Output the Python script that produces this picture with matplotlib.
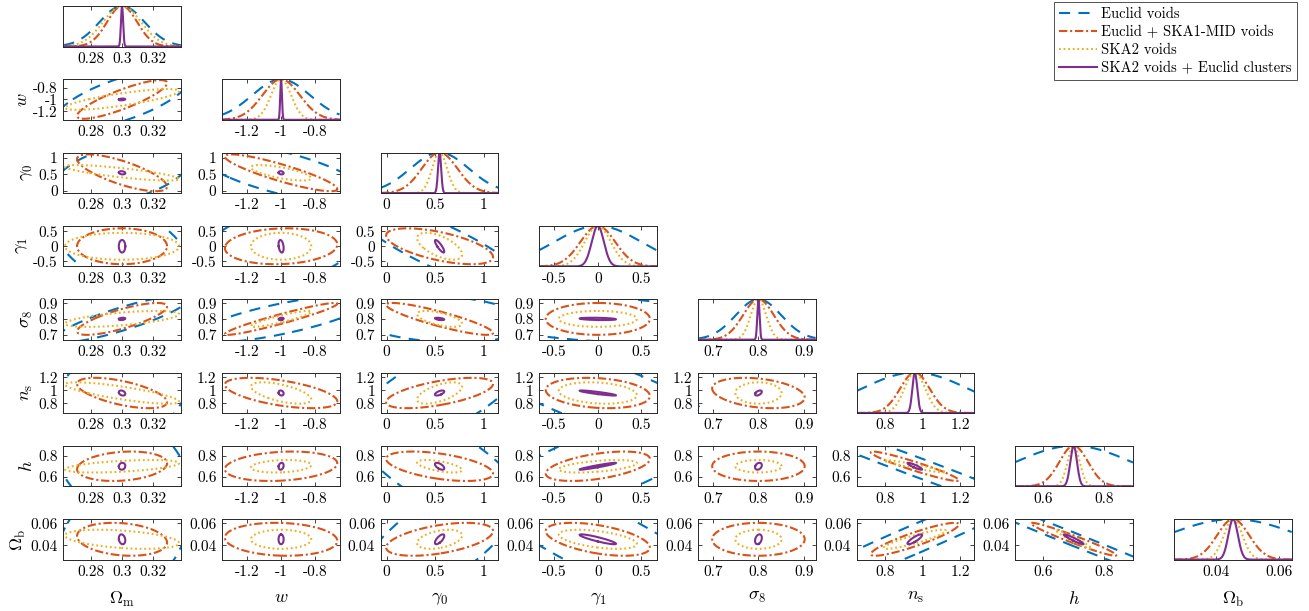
import numpy as np
import matplotlib
matplotlib.use("Agg")
from matplotlib import pyplot as plt
from matplotlib.lines import Line2D

plt.rcParams['font.family'] = ['cmr10']
plt.rcParams['mathtext.fontset'] = 'cm'
plt.rcParams['axes.unicode_minus'] = False
plt.rcParams['axes.formatter.use_mathtext'] = True
plt.rcParams['lines.scale_dashes'] = False

# parameters
names = [r'$\Omega_\mathrm{m}$', r'$w$', r'$\gamma_0$', r'$\gamma_1$',
         r'$\sigma_8$', r'$n_\mathrm{s}$', r'$h$', r'$\Omega_\mathrm{b}$']
fid = [0.3, -1.0, 0.545, 0.0, 0.8, 0.96, 0.7, 0.0455]
lims = [(0.262, 0.338), (-1.347, -0.657), (-0.06, 1.147), (-0.673, 0.681),
        (0.667, 0.926), (0.652, 1.276), (0.508, 0.896), (0.027, 0.0639)]
ticks = [[0.28, 0.3, 0.32], [-1.2, -1, -0.8], [0, 0.5, 1], [-0.5, 0, 0.5],
         [0.7, 0.8, 0.9], [0.8, 1, 1.2], [0.6, 0.8], [0.04, 0.06]]
tick_labels = [['0.28', '0.3', '0.32'], ['-1.2', '-1', '-0.8'], ['0', '0.5', '1'],
               ['-0.5', '0', '0.5'], ['0.7', '0.8', '0.9'], ['0.8', '1', '1.2'],
               ['0.6', '0.8'], ['0.04', '0.06']]

# 1-sigma errors per experiment
sig_euclid = [0.0145, 0.17, 0.3, 0.5, 0.05, 0.28, 0.19, 0.021]
sig_ska1 = [0.0097, 0.11, 0.183, 0.2, 0.034, 0.078, 0.047, 0.005]
sig_ska2 = [0.0123, 0.059, 0.077, 0.15, 0.017, 0.055, 0.02, 0.0029]
sig_clus = [0.0007, 0.005, 0.016, 0.07, 0.0025, 0.013, 0.011, 0.0015]

# correlations, row j lists rho(i, j) for i < j
rho_euclid = [[0.68],
              [0.42, -0.7],
              [-0.44, 0.45, -0.84],
              [0.86, 0.75, -0.2, -0.3],
              [0.3, 0.1, 0.68, -0.79, -0.25],
              [-0.36, 0.1, -0.7, 0.8, 0.0, -0.985],
              [0.38, 0.0, 0.74, -0.85, 0.0, 0.975, -0.995]]
rho_ska1 = [[0.85],
            [-0.75, -0.88],
            [0.0, 0.1, -0.6],
            [0.78, 0.95, -0.88, 0.0],
            [-0.6, -0.55, 0.6, -0.2, -0.3],
            [0.2, 0.2, -0.5, 0.5, 0.0, -0.95],
            [-0.2, -0.1, 0.5, -0.5, 0.0, 0.9, -0.97]]
rho_ska2 = [[0.8],
            [-0.8, -0.7],
            [0.0, 0.0, -0.6],
            [0.6, 0.9, -0.6, 0.0],
            [-0.8, -0.6, 0.6, -0.2, 0.0],
            [0.5, 0.2, -0.6, 0.5, 0.0, -0.95],
            [-0.4, 0.0, 0.4, -0.5, 0.0, 0.9, -0.97]]
rho_clus = [[0.2],
            [-0.2, -0.2],
            [0.0, -0.3, -0.85],
            [0.3, 0.3, -0.5, -0.3],
            [-0.3, -0.2, 0.6, -0.9, 0.5],
            [0.1, 0.2, -0.6, 0.95, 0.3, -0.9],
            [-0.2, 0.0, 0.7, -0.9, 0.3, 0.85, -0.95]]

labels = ['Euclid voids', 'Euclid + SKA1-MID voids', 'SKA2 voids',
          'SKA2 voids + Euclid clusters']
colors = ['#0072BD', '#D95319', '#EDB120', '#7E2F8E']
dashes = [(8, 6), (6, 2, 1.5, 2), (1.3, 2.0), None]
experiments = [(sig_euclid, rho_euclid), (sig_ska1, rho_ska1),
               (sig_ska2, rho_ska2), (sig_clus, rho_clus)]
kscale = 3.0
lw = 1.5

W, H = 1309, 611
fig = plt.figure(figsize=(W / 100, H / 100), dpi=100)
n = len(names)
tt = np.linspace(0, 2 * np.pi, 400)

for j in range(n):
    for i in range(j + 1):
        left = 63.3 + 158.7 * i
        top = 6 + 73.3 * j
        ax = fig.add_axes([left / W, 1 - (top + 40.5) / H, 117.5 / W, 40.5 / H])
        ax.set_xlim(lims[i])
        if i == j:
            x = np.linspace(lims[i][0], lims[i][1], 600)
            for (sig, rho), c, d in zip(experiments, colors, dashes):
                y = np.exp(-0.5 * ((x - fid[i]) / sig[i]) ** 2)
                ln, = ax.plot(x, y, color=c, lw=lw)
                if d is not None:
                    ln.set_dashes(d)
            ax.set_ylim(0, 1)
            ax.set_yticks([])
        else:
            for (sig, rho), c, d in zip(experiments, colors, dashes):
                r = rho[j - 1][i]
                cov = np.array([[sig[i] ** 2, r * sig[i] * sig[j]],
                                [r * sig[i] * sig[j], sig[j] ** 2]])
                vals, vecs = np.linalg.eigh(cov)
                circ = np.vstack([np.cos(tt), np.sin(tt)]) * np.sqrt(vals)[:, None] * kscale
                pts = vecs @ circ
                ln, = ax.plot(fid[i] + pts[0], fid[j] + pts[1], color=c, lw=lw)
                if d is not None:
                    ln.set_dashes(d)
            ax.set_ylim(lims[j])
            ax.set_yticks(ticks[j])
            ax.set_yticklabels(tick_labels[j])
        ax.set_xticks(ticks[i])
        ax.set_xticklabels(tick_labels[i])
        ax.tick_params(direction='in', length=3, width=0.6, top=True, right=True,
                       labelsize=11, pad=4, colors='#262626', labelcolor='black')
        for s in ax.spines.values():
            s.set_color('#262626')
            s.set_linewidth(0.7)
        if i == 0 and j > 0:
            ax.set_ylabel(names[j], fontsize=13, labelpad=2)
        if j == n - 1:
            ax.set_xlabel(names[i], fontsize=13, labelpad=8)

handles = []
for c, d in zip(colors, dashes):
    h = Line2D([0], [0], color=c, lw=lw)
    if d is not None:
        h.set_dashes(d)
    handles.append(h)
leg = fig.legend(handles, labels, loc='upper right', bbox_to_anchor=(1297 / W, 1 - 2 / H),
                 fontsize=10.5, frameon=True, fancybox=False, edgecolor='#262626',
                 handlelength=2.6, handletextpad=0.3, labelspacing=0.3,
                 borderpad=0.35, borderaxespad=0)
leg.get_frame().set_linewidth(0.7)

fig.savefig('out.png', dpi=100)
